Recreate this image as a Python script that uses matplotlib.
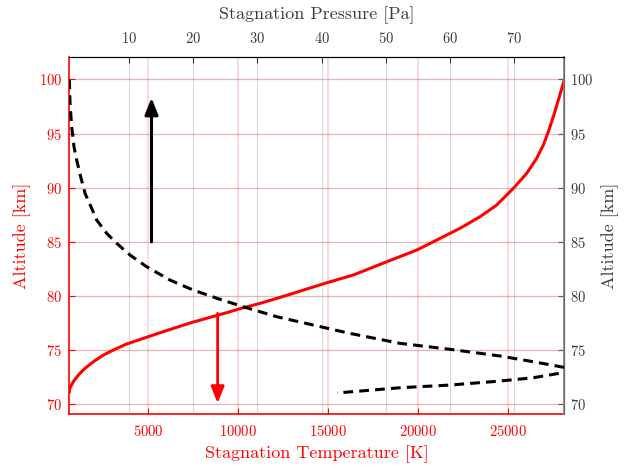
import matplotlib
matplotlib.use("Agg")
import matplotlib.pyplot as plt

plt.rcParams["font.family"] = "cmr10"
plt.rcParams["mathtext.fontset"] = "cm"
plt.rcParams["axes.formatter.use_mathtext"] = True

# ── DATA ──────────────────────────────────────────────────────────────────────
temp_K = [630, 667, 852, 1130, 1500, 1963, 2519, 3074, 3815, 4741, 5667, 6593,
          7519, 8444, 9370, 10111, 11222, 12148, 13074, 13444, 14926, 16407,
          18259, 19926, 21222, 22333, 23444, 24370, 25296, 26037, 26593, 26963,
          27241, 27519, 27796, 28074, 28130]
temp_alt = [71.16, 71.53, 72.09, 72.70, 73.32, 73.93, 74.55, 75.01, 75.57, 76.09,
            76.61, 77.11, 77.60, 78.03, 78.46, 78.83, 79.32, 79.78, 80.25, 80.45,
            81.22, 81.94, 83.16, 84.24, 85.32, 86.25, 87.32, 88.40, 89.94, 91.32,
            92.71, 93.94, 95.17, 96.55, 98.09, 99.63, 100.0]

pres_Pa = [0.7, 0.81, 1.07, 1.43, 1.85, 2.47, 3.15, 4.19, 4.97, 6.53, 8.09, 10.16,
           12.76, 16.39, 20.0, 24.19, 27.82, 33.0, 36.65, 39.8, 44.4, 52.2, 60.0,
           67.8, 73.0, 77.7, 79.0, 77.7, 73.0, 67.8, 60.0, 52.2, 42.4]
pres_alt = [100.0, 97.78, 95.63, 93.78, 92.55, 91.01, 89.48, 88.09, 87.01, 85.78,
            84.86, 83.78, 82.70, 81.47, 80.55, 79.69, 79.01, 78.09, 77.60, 77.17,
            76.55, 75.63, 75.08, 74.46, 73.93, 73.42, 73.17, 72.93, 72.46, 72.15,
            71.78, 71.53, 71.05]

temp_ticks = [5000, 10000, 15000, 20000, 25000]
pres_ticks = [10, 20, 30, 40, 50, 60, 70]
alt_ticks = [70, 75, 80, 85, 90, 95, 100]

# arrows: (x, y_from, y_to)
up_arrow = (13.5, 85.0, 98.3)       # on pressure axis
down_arrow = (8870, 78.4, 70.1)     # on temperature axis

RED = "#ff0000"
DARK = "#3a3a3a"
HEAD = "-|>,head_length=1.0,head_width=0.4"

# ── FIGURE ────────────────────────────────────────────────────────────────────
fig = plt.figure(figsize=(6.33, 4.70), dpi=100)
ax = fig.add_axes([0.1095, 0.119, 0.782, 0.7604])

ax.plot(temp_K, temp_alt, color=RED, linewidth=2.2, zorder=3)
ax.annotate("", xy=(down_arrow[0], down_arrow[2]), xytext=(down_arrow[0], down_arrow[1]),
            arrowprops=dict(arrowstyle=HEAD, color=RED, lw=2.0, shrinkA=0, shrinkB=0),
            zorder=4)

ax.set_xlim(630, 28130)
ax.set_ylim(69.1, 102.1)
ax.set_xticks(temp_ticks)
ax.set_yticks(alt_ticks)
ax.tick_params(direction="in", colors=RED, labelsize=10.5, length=4)
ax.tick_params(axis="x", pad=7)
ax.tick_params(axis="y", pad=5)
ax.set_xlabel("Stagnation Temperature [K]", color=RED, fontsize=13, labelpad=5)
ax.set_ylabel("Altitude [km]", color=RED, fontsize=13, labelpad=6)
ax.grid(True, axis="x", color=RED, alpha=0.15, linewidth=1.4)
ax.grid(True, axis="y", color="#c06060", alpha=0.45, linewidth=0.9)
ax.spines["left"].set_color(RED)
ax.spines["bottom"].set_color(RED)
ax.spines["left"].set_linewidth(1.2)
ax.spines["bottom"].set_linewidth(1.2)

axp = ax.twiny()
axp.plot(pres_Pa, pres_alt, color="black", linewidth=2.2, linestyle=(0, (3.2, 2.0)), zorder=3)
axp.annotate("", xy=(up_arrow[0], up_arrow[2]), xytext=(up_arrow[0], up_arrow[1]),
             arrowprops=dict(arrowstyle=HEAD, color="black", lw=2.2, shrinkA=0, shrinkB=0),
             zorder=4)
axp.set_xlim(0.7, 77.8)
axp.set_xticks(pres_ticks)
axp.tick_params(direction="in", colors=DARK, labelsize=10.5, length=4, pad=8)
axp.set_xlabel("Stagnation Pressure [Pa]", color=DARK, fontsize=13, labelpad=8)
axp.grid(True, axis="x", color="gray", alpha=0.3, linewidth=0.8)
axp.spines["right"].set_color("gray")
axp.spines["right"].set_linewidth(1.2)
axp.spines["left"].set_visible(False)
axp.spines["bottom"].set_visible(False)

axr = ax.secondary_yaxis("right")
axr.set_yticks(alt_ticks)
axr.tick_params(direction="in", colors=DARK, labelsize=10.5, length=4, pad=4)
axr.set_ylabel("Altitude [km]", color=DARK, fontsize=13, labelpad=6)
axr.spines["right"].set_color("gray")

fig.savefig("out.png", dpi=100)
